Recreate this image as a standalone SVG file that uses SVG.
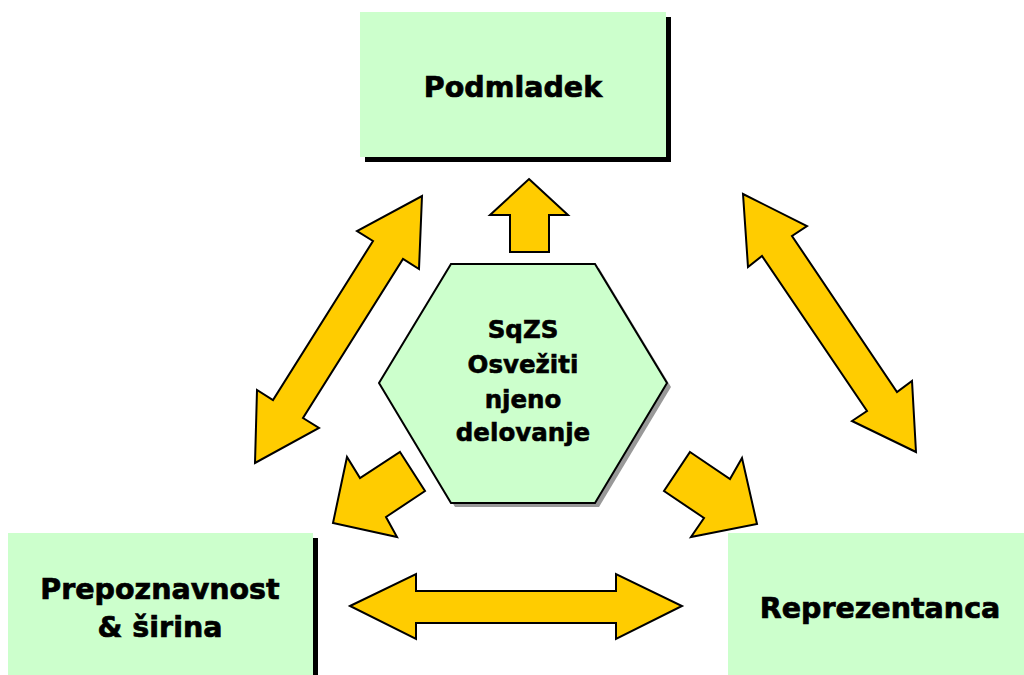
<svg xmlns="http://www.w3.org/2000/svg" width="1024" height="675" viewBox="0 0 1024 675">
<style>
.box{fill:#CCFFCC;}
.shadow{fill:#000000;}
.arrow{fill:#FFCC00;stroke:#000000;stroke-width:2;stroke-linejoin:miter;}
.lbl{font-family:"DejaVu Sans","Liberation Sans",sans-serif;font-weight:bold;font-size:28.5px;fill:#000000;stroke:#000000;stroke-width:0.7;text-anchor:middle;}
.hlbl{font-family:"DejaVu Sans","Liberation Sans",sans-serif;font-weight:bold;font-size:24.5px;fill:#000000;stroke:#000000;stroke-width:0.6;text-anchor:middle;}
</style>
<rect width="1024" height="675" fill="#FFFFFF"/>
<g id="podmladek">
<rect class="shadow" x="365" y="17" width="306" height="145"/>
<rect class="box" x="360" y="12" width="306" height="145"/>
<text class="lbl" x="513" y="97">Podmladek</text>
</g>
<g id="sqzs">
<polygon points="455,268 599,268 671,387 599,507 455,507 383,387" fill="#999999"/>
<polygon points="451,264 595,264 667,383 595,503 451,503 379,383" fill="#CCFFCC" stroke="#000000" stroke-width="2"/>
<text class="hlbl" x="523" y="338">SqZS</text>
<text class="hlbl" x="523" y="373">Osvežiti</text>
<text class="hlbl" x="523" y="408">njeno</text>
<text class="hlbl" x="523" y="441">delovanje</text>
</g>
<g id="prepoznavnost">
<rect class="shadow" x="13" y="538" width="305" height="142"/>
<rect class="box" x="8" y="533" width="305" height="145"/>
<text class="lbl" x="160" y="599">Prepoznavnost</text>
<text class="lbl" x="160" y="637">&amp; širina</text>
</g>
<g id="reprezentanca">
<rect class="box" x="728" y="533" width="300" height="145"/>
<text class="lbl" x="880" y="618">Reprezentanca</text>
</g>
<g id="connectors">
<polygon class="arrow" points="529,179 568,215 549,215 549,252 510,252 510,215 490,215"/>
<polygon class="arrow" points="422,196 419,269 403,259 303,418 319,428 255,463 257,390 273,400 373,241 357,231"/>
<polygon class="arrow" points="743,194 807,226 792,236 897,392 912,381 916,452 852,421 867,411 762,256 748,267"/>
<polygon class="arrow" points="350,606 416,574 416,591 616,591 616,574 682,606 616,639 616,623 416,623 416,639"/>
<polygon class="arrow" points="400,452 425,491 386,517 397,537 333,523 347,457 360,478"/>
<polygon class="arrow" points="690,452 730,479 742,458 757,524 691,537 704,518 664,491"/>
</g>
</svg>
